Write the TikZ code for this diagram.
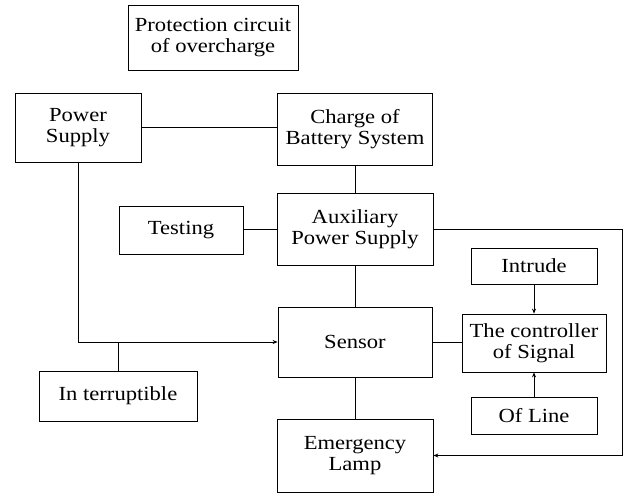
\documentclass[tikz,border=0pt]{standalone}
\usepackage{fontspec}
\setmainfont{Liberation Serif}[FakeStretch=1.13]
\usetikzlibrary{arrows.meta}
\begin{document}
\begin{tikzpicture}[x=1pt,y=-1pt,
  blk/.style={draw=black, line width=0.8pt, inner sep=0pt, align=center,
    font=\fontsize{20}{21.5}\selectfont},
  conn/.style={draw=black, line width=0.8pt},
  arr/.style={conn, -{Stealth[length=5pt,width=4pt]}}]
\useasboundingbox (0,0) rectangle (626,495);
\node[blk, minimum width=170pt, minimum height=65pt] (prot) at (213,37.5) {Protection circuit\\of overcharge};
\node[blk, minimum width=126pt, minimum height=69pt] (power) at (78,127.5) {Power\\Supply};
\node[blk, minimum width=155pt, minimum height=72pt] (charge) at (355,129) {Charge of\\Battery System};
\node[blk, minimum width=156pt, minimum height=72pt] (aux) at (355,229) {Auxiliary\\Power Supply};
\node[blk, minimum width=124pt, minimum height=48pt] (testing) at (181,230) {Testing};
\node[blk, minimum width=154pt, minimum height=70pt] (sensor) at (355,342) {Sensor};
\node[blk, minimum width=158pt, minimum height=50pt] (intr) at (118,396) {In terruptible};
\node[blk, minimum width=156pt, minimum height=73pt] (emerg) at (355,455.5) {Emergency\\Lamp};
\node[blk, minimum width=126pt, minimum height=36pt] (intrude) at (534,266) {Intrude};
\node[blk, minimum width=144pt, minimum height=58pt] (ctrl) at (534,343) {The controller\\of Signal};
\node[blk, minimum width=126pt, minimum height=37pt] (ofline) at (534,415.5) {Of Line};
\coordinate (rt) at (622,229);
\draw[conn] (power.east) -- (power.east -| charge.west);
\draw[conn] (charge.south) -- (charge.south |- aux.north);
\draw[conn] (aux.west) -- (aux.west -| testing.east);
\draw[arr] (power.south) |- (sensor.west);
\draw[conn] (intr.north) -- (intr.north |- sensor.west);
\draw[conn] (aux.south) -- (sensor.north);
\draw[conn] (sensor.east) -- (sensor.east -| ctrl.west);
\draw[arr] (intrude.south) -- (ctrl.north);
\draw[arr] (ofline.north) -- (ctrl.south);
\draw[conn] (sensor.south) -- (emerg.north);
\draw[arr] (aux.east) -- (rt) |- (emerg.east);
\end{tikzpicture}
\end{document}
